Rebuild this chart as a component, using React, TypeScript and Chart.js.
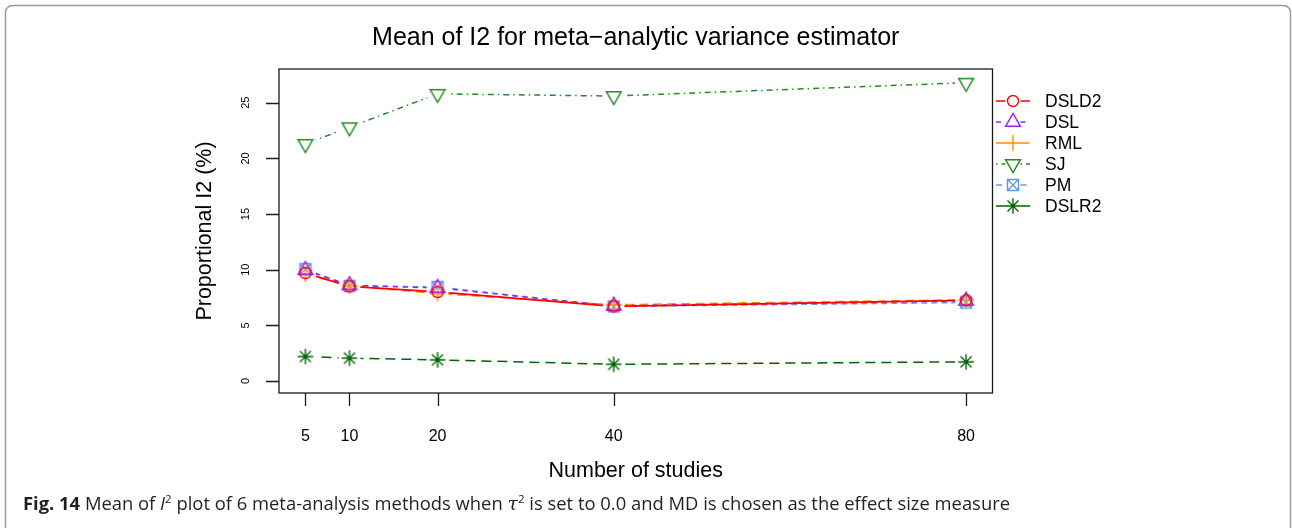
import React, { useEffect, useRef } from "react";
import { Chart, registerables } from "chart.js";

Chart.register(...registerables);

// ---- data -------------------------------------------------------------
const studies = [5, 10, 20, 40, 80];
const xTickLabels = ["5", "10", "20", "40", "80"];
const yTicks = [0, 5, 10, 15, 20, 25];

const seriesNames = ["DSLD2", "DSL", "RML", "SJ", "PM", "DSLR2"];
const dsld2 = [9.7, 8.5, 8.0, 6.7, 7.25];
const dsl = [9.95, 8.6, 8.35, 6.75, 7.2];
const rml = [9.6, 8.55, 7.85, 6.85, 7.3];
const sj = [21.3, 22.8, 25.8, 25.6, 26.8];
const pm = [10.05, 8.55, 8.45, 6.7, 7.05];
const dslr2 = [2.2, 2.05, 1.9, 1.5, 1.72];

const titleText = "Mean of I2 for meta\u2212analytic variance estimator";
const xTitle = "Number of studies";
const yTitle = "Proportional I2 (%)";

// ---- styles -----------------------------------------------------------
const seriesValues = [dsld2, dsl, rml, sj, pm, dslr2];
const colors = ["#ff0000", "#a020f0", "#ff8c00", "#228b22", "#6495ed", "#006400"];
const widths = [1.8, 1.5, 1.5, 1.5, 1.5, 1.5];
const dashes: number[][] = [[], [5, 5], [9, 5], [1.5, 4, 6, 4], [6, 4], [10, 6]];
const symbols = ["circle", "triUp", "plus", "triDown", "squareX", "asterisk"];

const SYM = 5.5; // base symbol radius (px)
const GAP = 11; // line gap around each point
const RFONT = '"Liberation Sans", Arial, Helvetica, sans-serif';

function drawSymbol(ctx: CanvasRenderingContext2D, kind: string, cx: number, cy: number, s: number, color: string) {
  ctx.save();
  ctx.strokeStyle = color;
  ctx.lineWidth = 1.4;
  ctx.setLineDash([]);
  ctx.beginPath();
  const r2 = Math.SQRT2 * s;
  switch (kind) {
    case "circle":
      ctx.arc(cx, cy, s, 0, Math.PI * 2);
      break;
    case "triUp": {
      const r = 1.555 * s, h = 1.3468 * s, b = 0.7776 * s;
      ctx.moveTo(cx, cy - r);
      ctx.lineTo(cx + h, cy + b);
      ctx.lineTo(cx - h, cy + b);
      ctx.closePath();
      break;
    }
    case "triDown": {
      const r = 1.555 * s, h = 1.3468 * s, b = 0.7776 * s;
      ctx.moveTo(cx, cy + r);
      ctx.lineTo(cx + h, cy - b);
      ctx.lineTo(cx - h, cy - b);
      ctx.closePath();
      break;
    }
    case "plus":
      ctx.moveTo(cx - r2, cy);
      ctx.lineTo(cx + r2, cy);
      ctx.moveTo(cx, cy - r2);
      ctx.lineTo(cx, cy + r2);
      break;
    case "squareX":
      ctx.rect(cx - s, cy - s, 2 * s, 2 * s);
      ctx.moveTo(cx - s, cy - s);
      ctx.lineTo(cx + s, cy + s);
      ctx.moveTo(cx - s, cy + s);
      ctx.lineTo(cx + s, cy - s);
      break;
    case "asterisk":
      ctx.moveTo(cx - s, cy - s);
      ctx.lineTo(cx + s, cy + s);
      ctx.moveTo(cx - s, cy + s);
      ctx.lineTo(cx + s, cy - s);
      ctx.moveTo(cx - r2, cy);
      ctx.lineTo(cx + r2, cy);
      ctx.moveTo(cx, cy - r2);
      ctx.lineTo(cx, cy + r2);
      break;
  }
  ctx.stroke();
  ctx.restore();
}

function symbolCanvas(kind: string, color: string): HTMLCanvasElement {
  const c = document.createElement("canvas");
  c.width = 28;
  c.height = 28;
  const ctx = c.getContext("2d")!;
  drawSymbol(ctx, kind, 14, 14, SYM, color);
  return c;
}

// Base-graphics style decorations: box, axes, titles, legend, caption, frame
const rDecor = {
  id: "rDecor",
  beforeDatasetDraw(chart: any, args: any) {
    const ds = chart.data.datasets[args.index];
    if (!ds.gapLine) return;
    const ctx = chart.ctx;
    ctx.save();
    ctx.beginPath();
    ctx.rect(0, 0, chart.width, chart.height);
    for (const el of args.meta.data) {
      ctx.moveTo(el.x + GAP, el.y);
      ctx.arc(el.x, el.y, GAP, 0, Math.PI * 2);
    }
    ctx.clip("evenodd");
  },
  afterDatasetDraw(chart: any, args: any) {
    const ds = chart.data.datasets[args.index];
    if (ds.gapLine) chart.ctx.restore();
  },
  afterDraw(chart: any) {
    const ctx: CanvasRenderingContext2D = chart.ctx;
    const a = chart.chartArea;
    const xs = chart.scales.x;
    const ys = chart.scales.y;
    ctx.save();

    // plot box
    ctx.strokeStyle = "#1a1a1a";
    ctx.lineWidth = 1.3;
    ctx.setLineDash([]);
    ctx.strokeRect(a.left, a.top, a.right - a.left, a.bottom - a.top);

    // x axis ticks + labels
    ctx.fillStyle = "#000";
    ctx.font = `16px ${RFONT}`;
    ctx.textAlign = "center";
    ctx.textBaseline = "alphabetic";
    ctx.beginPath();
    studies.forEach((v) => {
      const px = Math.round(xs.getPixelForValue(v)) + 0.5;
      ctx.moveTo(px, a.bottom);
      ctx.lineTo(px, a.bottom + 13);
    });
    ctx.stroke();
    studies.forEach((v, i) => {
      ctx.fillText(xTickLabels[i], xs.getPixelForValue(v), 441);
    });

    // y axis ticks + rotated labels
    ctx.beginPath();
    yTicks.forEach((v) => {
      const py = Math.round(ys.getPixelForValue(v)) + 0.5;
      ctx.moveTo(a.left, py);
      ctx.lineTo(a.left - 13, py);
    });
    ctx.stroke();
    ctx.font = `11px ${RFONT}`;
    yTicks.forEach((v) => {
      ctx.save();
      ctx.translate(249, ys.getPixelForValue(v));
      ctx.rotate(-Math.PI / 2);
      ctx.fillText(String(v), 0, 0);
      ctx.restore();
    });

    // titles
    const cx = (a.left + a.right) / 2;
    const cy = (a.top + a.bottom) / 2;
    ctx.font = `25px ${RFONT}`;
    ctx.fillText(titleText, cx, 45);
    ctx.font = `21.5px ${RFONT}`;
    ctx.fillText(xTitle, cx, 477);
    ctx.save();
    ctx.translate(211, cy);
    ctx.rotate(-Math.PI / 2);
    ctx.fillText(yTitle, 0, 0);
    ctx.restore();

    // legend
    ctx.font = `17.5px ${RFONT}`;
    ctx.textAlign = "left";
    seriesNames.forEach((name, i) => {
      const y = 101 + 21 * i;
      const sx = 1013;
      ctx.save();
      ctx.strokeStyle = colors[i];
      ctx.lineWidth = 1.4;
      ctx.setLineDash(dashes[i]);
      ctx.beginPath();
      ctx.moveTo(996, y);
      ctx.lineTo(sx - SYM - 2, y);
      ctx.moveTo(sx + SYM + 2, y);
      ctx.lineTo(1030, y);
      ctx.stroke();
      ctx.restore();
      drawSymbol(ctx, symbols[i], sx, y, SYM, colors[i]);
      ctx.fillStyle = "#000";
      ctx.fillText(name, 1045, y + 6.3);
    });

    // caption
    const cap = '"Open Sans", "Noto Sans", sans-serif';
    const parts = [
      { t: "Fig. 14", f: `bold 17.5px ${cap}`, dy: 0 },
      { t: " Mean of ", f: `17.5px ${cap}`, dy: 0 },
      { t: "I", f: `italic 17.5px ${cap}`, dy: 0 },
      { t: "2", f: `11px ${cap}`, dy: -7 },
      { t: " plot of 6 meta-analysis methods when ", f: `17.5px ${cap}`, dy: 0 },
      { t: "\u03c4", f: `italic 18px "DejaVu Serif", serif`, dy: 0 },
      { t: "2", f: `11px ${cap}`, dy: -7 },
      { t: " is set to 0.0 and MD is chosen as the effect size measure", f: `17.5px ${cap}`, dy: 0 },
    ];
    let total = 0;
    parts.forEach((p) => {
      ctx.font = p.f;
      total += ctx.measureText(p.t).width;
    });
    const k = 987 / total;
    ctx.save();
    ctx.translate(23, 510);
    ctx.scale(k, 1);
    ctx.fillStyle = "#231f20";
    let x = 0;
    parts.forEach((p) => {
      ctx.font = p.f;
      ctx.fillText(p.t, x, p.dy);
      x += ctx.measureText(p.t).width;
    });
    ctx.restore();

    // figure frame
    ctx.strokeStyle = "#9a9a9a";
    ctx.lineWidth = 1.5;
    const L = 5.5, T = 5.5, R = 1290.5, rr = 7;
    ctx.beginPath();
    ctx.moveTo(L, 528);
    ctx.lineTo(L, T + rr);
    ctx.arcTo(L, T, L + rr, T, rr);
    ctx.lineTo(R - rr, T);
    ctx.arcTo(R, T, R, T + rr, rr);
    ctx.lineTo(R, 528);
    ctx.stroke();

    ctx.restore();
  },
};

export default function App() {
  const ref = useRef<HTMLCanvasElement | null>(null);

  useEffect(() => {
    if (!ref.current) return;
    const datasets: any[] = [];
    seriesNames.forEach((name, i) => {
      const pts = studies.map((x, j) => ({ x, y: seriesValues[i][j] }));
      datasets.push({
        label: name,
        data: pts,
        showLine: false,
        pointStyle: symbolCanvas(symbols[i], colors[i]),
        pointRadius: 6,
        order: 2 * i,
      });
      datasets.push({
        label: name + " line",
        data: pts,
        gapLine: true,
        borderColor: colors[i],
        borderWidth: widths[i],
        borderDash: dashes[i],
        pointRadius: 0,
        tension: 0,
        fill: false,
        order: 2 * i + 1,
      });
    });

    const chart = new Chart(ref.current, {
      type: "line",
      data: { datasets },
      options: {
        animation: false,
        responsive: false,
        events: [],
        layout: { padding: { left: 279, top: 69, right: 1292 - 992.5, bottom: 528 - 393 } },
        scales: {
          x: { type: "linear", min: 2, max: 83, display: false },
          y: { type: "linear", min: -1.078, max: 28.03, display: false },
        },
        plugins: {
          legend: { display: false },
          tooltip: { enabled: false },
          title: { display: false },
        },
      },
      plugins: [rDecor],
    });
    return () => chart.destroy();
  }, []);

  return (
    <div style={{ position: "absolute", left: 0, top: 0, width: 1292, height: 528, background: "#fff" }}>
      <canvas ref={ref} width={1292} height={528} style={{ display: "block" }} />
    </div>
  );
}
